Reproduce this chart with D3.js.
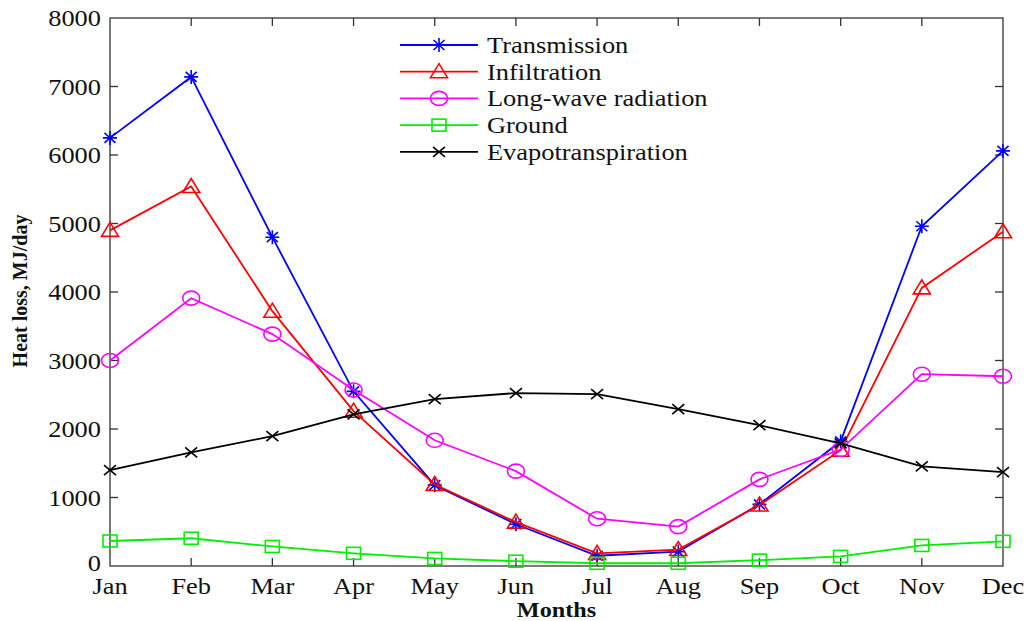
<!DOCTYPE html>
<html>
<head>
<meta charset="utf-8">
<script src="https://cdn.jsdelivr.net/npm/d3@7"></script>
<style>
  body { margin: 0; background: #fff; }
  svg { display: block; }
  text { font-family: "Liberation Serif", "Times New Roman", serif; fill: #111; }
</style>
</head>
<body>
<svg id="chart" width="1026" height="621"></svg>
<script>
// data
const months = ["Jan", "Feb", "Mar", "Apr", "May", "Jun", "Jul", "Aug", "Sep", "Oct", "Nov", "Dec"];
const yTicks = [0, 1000, 2000, 3000, 4000, 5000, 6000, 7000, 8000];
const transmission = [6250, 7140, 4800, 2550, 1180, 610, 150, 210, 900, 1820, 4960, 6060];
const infiltration = [4900, 5540, 3720, 2260, 1190, 640, 185, 240, 890, 1690, 4060, 4880];
const longWave = [3000, 3910, 3385, 2570, 1835, 1385, 690, 575, 1265, 1700, 2800, 2770];
const ground = [365, 405, 285, 185, 110, 70, 40, 40, 85, 140, 300, 360];
const evapo = [1400, 1660, 1895, 2215, 2435, 2525, 2510, 2290, 2055, 1790, 1455, 1370];

const seriesNames = ["Transmission", "Infiltration", "Long-wave radiation", "Ground", "Evapotranspiration"];
const seriesColors = ["#0000ff", "#ff0000", "#ff00ff", "#00ee00", "#000000"];
const seriesMarkers = ["asterisk", "triangle", "circle", "square", "cross"];
const seriesValues = [transmission, infiltration, longWave, ground, evapo];

const margin = { top: 18, right: 23, bottom: 55, left: 110 };
const width = 1026 - margin.left - margin.right,
      height = 621 - margin.top - margin.bottom;

const svg = d3.select("#chart");
const g = svg.append("g").attr("transform", "translate(" + margin.left + "," + margin.top + ")");

const x = d3.scalePoint().domain(months).range([0, width]);
const y = d3.scaleLinear().domain([0, 8000]).range([height, 0]);

const sx = 1.1; // the reference text is a bit stretched sideways

function stretchedText(parent, tx, ty, str, anchor, size, weight) {
  const t = parent.append("g").attr("transform", "translate(" + tx + "," + ty + ") scale(" + sx + ",1)")
    .append("text")
    .attr("text-anchor", anchor)
    .style("font-size", size + "px")
    .text(str);
  if (weight) t.style("font-weight", weight);
  return t;
}

// markers
function drawMarker(sel, type, color) {
  sel.attr("fill", "none").attr("stroke", color).attr("stroke-width", 1.6);
  if (type === "asterisk") {
    sel.append("path").attr("d", "M-7,0H7M0,-7V7M-5.5,-5L5.5,5M-5.5,5L5.5,-5");
  } else if (type === "triangle") {
    sel.append("path").attr("d", "M0,-8L8.5,6H-8.5Z");
  } else if (type === "circle") {
    sel.append("ellipse").attr("rx", 8.5).attr("ry", 7);
  } else if (type === "square") {
    sel.append("rect").attr("x", -7).attr("y", -6).attr("width", 14).attr("height", 12);
  } else if (type === "cross") {
    sel.append("path").attr("d", "M-6,-5L6,5M-6,5L6,-5");
  }
}

// axes box
const axisColor = "#333";
g.append("rect").attr("x", 0).attr("y", 0).attr("width", width).attr("height", height)
  .attr("fill", "none").attr("stroke", axisColor).attr("stroke-width", 1.3);

const tickLen = 8;
yTicks.forEach(function (v) {
  if (v === 0 || v === 8000) return;
  g.append("line").attr("x1", 0).attr("x2", tickLen).attr("y1", y(v)).attr("y2", y(v)).attr("stroke", axisColor).attr("stroke-width", 1.3);
  g.append("line").attr("x1", width).attr("x2", width - tickLen).attr("y1", y(v)).attr("y2", y(v)).attr("stroke", axisColor).attr("stroke-width", 1.3);
});
months.forEach(function (m, i) {
  if (i === 0 || i === months.length - 1) return;
  g.append("line").attr("x1", x(m)).attr("x2", x(m)).attr("y1", height).attr("y2", height - tickLen).attr("stroke", axisColor).attr("stroke-width", 1.3);
  g.append("line").attr("x1", x(m)).attr("x2", x(m)).attr("y1", 0).attr("y2", tickLen).attr("stroke", axisColor).attr("stroke-width", 1.3);
});

// tick labels
yTicks.forEach(function (v) {
  stretchedText(g, -9, y(v) + (v === 0 ? 5 : 8), String(v), "end", 24);
});
months.forEach(function (m) {
  stretchedText(g, x(m), height + 28, m, "middle", 24);
});

// axis titles
stretchedText(g, width / 2, height + 51, "Months", "middle", 22, "bold");
svg.append("text")
  .attr("transform", "translate(27," + (margin.top + 273) + ") rotate(-90)")
  .attr("text-anchor", "middle")
  .style("font-size", "20px")
  .style("font-weight", "bold")
  .text("Heat loss, MJ/day");

// series
const line = d3.line().x(function (d, i) { return x(months[i]); }).y(function (d) { return y(d); });

seriesValues.forEach(function (vals, k) {
  g.append("path").datum(vals)
    .attr("d", line)
    .attr("fill", "none")
    .attr("stroke", seriesColors[k])
    .attr("stroke-width", 1.8);
  vals.forEach(function (v, i) {
    const mk = g.append("g").attr("transform", "translate(" + x(months[i]) + "," + y(v) + ")");
    drawMarker(mk, seriesMarkers[k], seriesColors[k]);
  });
});

// legend
const legend = svg.append("g").attr("transform", "translate(400,45)");
seriesNames.forEach(function (name, k) {
  const row = legend.append("g").attr("transform", "translate(0," + (k * 26.7) + ")");
  row.append("line").attr("x1", 0).attr("x2", 78).attr("y1", 0).attr("y2", 0)
    .attr("stroke", seriesColors[k]).attr("stroke-width", 1.8);
  const mk = row.append("g").attr("transform", "translate(39,0)");
  drawMarker(mk, seriesMarkers[k], seriesColors[k]);
  stretchedText(row, 87, 8, name, "start", 24);
});
</script>
</body>
</html>
